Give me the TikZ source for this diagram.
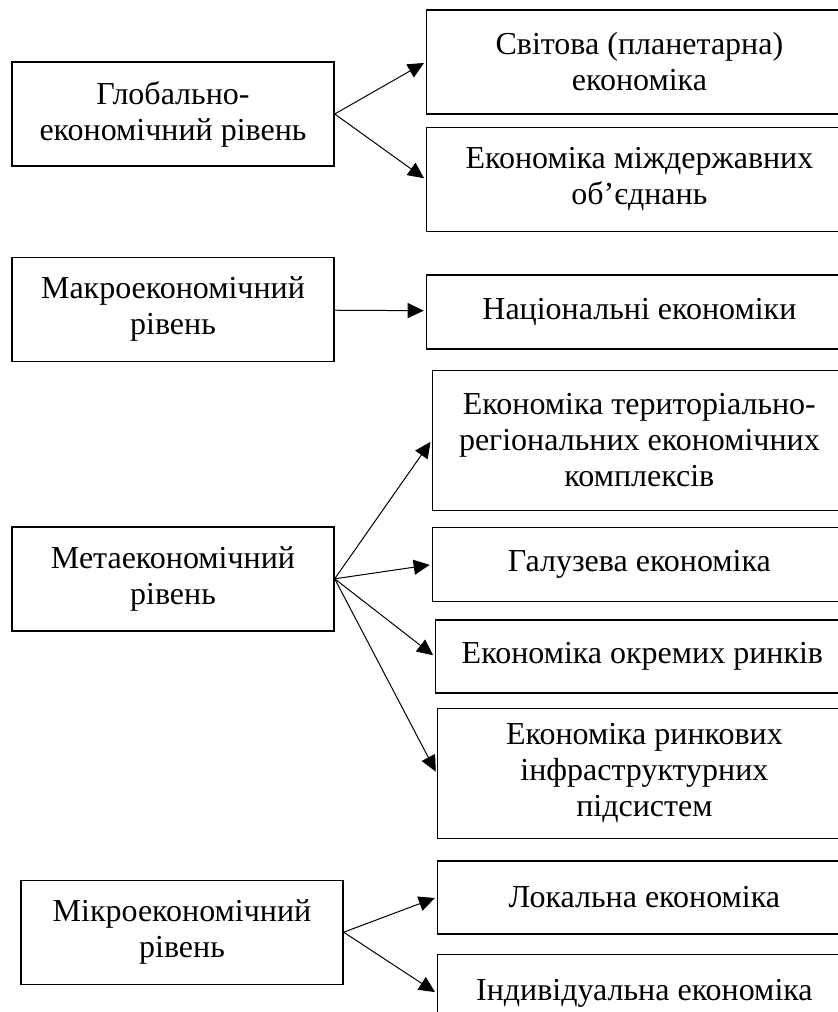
\documentclass[tikz,border=0pt]{standalone}
\usepackage{fontspec}
\setmainfont{Liberation Serif}
\usetikzlibrary{positioning,arrows.meta}

\begin{document}
\begin{tikzpicture}[
    node distance=6pt,
    lbox/.style={rectangle, draw, line width=0.7pt, minimum width=161pt, minimum height=52pt, inner sep=0pt, align=center, font=\fontsize{16}{18}\selectfont},
    rbox/.style={rectangle, draw, line width=0.7pt, minimum width=207pt, inner sep=0pt, align=center, font=\fontsize{16}{18}\selectfont},
    arrow/.style={-{Triangle[length=8pt,width=7.5pt]}, line width=0.5pt, shorten >=1pt}
]

% Page frame (boxes on the right run past it)
\clip (-86.5pt,57pt) rectangle (332.5pt,-449pt);

% Levels
\node[lbox] (glob) at (0,0) {Глобально-\\економічний рівень};
\node[lbox, below=45pt of glob] (makro) {Макроекономічний\\рівень};
\node[lbox, below=82pt of makro] (meta) {Метаекономічний\\рівень};
\node[lbox, below=124pt of meta, xshift=4.5pt] (mikro) {Мікроекономічний\\рівень};

% Economies
\node[rbox, right=45.5pt of glob, yshift=26pt, minimum width=213pt, minimum height=52pt] (svit) {Світова (планетарна)\\економіка};
\node[rbox, below=6pt of svit, minimum width=213pt, minimum height=52pt] (mizh) {Економіка міждержавних\\об’єднань};
\node[rbox, below=21pt of mizh, minimum width=213pt, minimum height=37pt] (nats) {Національні економіки};
\node[rbox, below=10pt of nats, minimum height=70pt] (territ) {Економіка територіально-\\регіональних економічних\\комплексів};
\node[rbox, below=8pt of territ, minimum height=37pt] (galuz) {Галузева економіка};
\node[rbox, below=8.5pt of galuz, xshift=1.5pt, minimum height=36.5pt] (okrem) {Економіка окремих ринків};
\node[rbox, below=7pt of okrem, xshift=1pt, minimum height=65pt] (infra) {Економіка ринкових\\інфраструктурних\\підсистем};
\node[rbox, below=10.5pt of infra, minimum height=36.5pt] (lokal) {Локальна економіка};
\node[rbox, below=9.5pt of lokal, minimum height=39pt] (individ) {Індивідуальна економіка};

% Connections
\draw[arrow] (glob.east) -- (svit.west);
\draw[arrow] (glob.east) -- (mizh.west);
\draw[arrow] (makro) -- (nats);
\draw[arrow] (meta.east) -- (territ.west);
\draw[arrow] (meta.east) -- (galuz.west);
\draw[arrow] (meta.east) -- (okrem.west);
\draw[arrow] (meta.east) -- (infra.west);
\draw[arrow] (mikro.east) -- (lokal.west);
\draw[arrow] (mikro.east) -- (individ.west);

\end{tikzpicture}
\end{document}
